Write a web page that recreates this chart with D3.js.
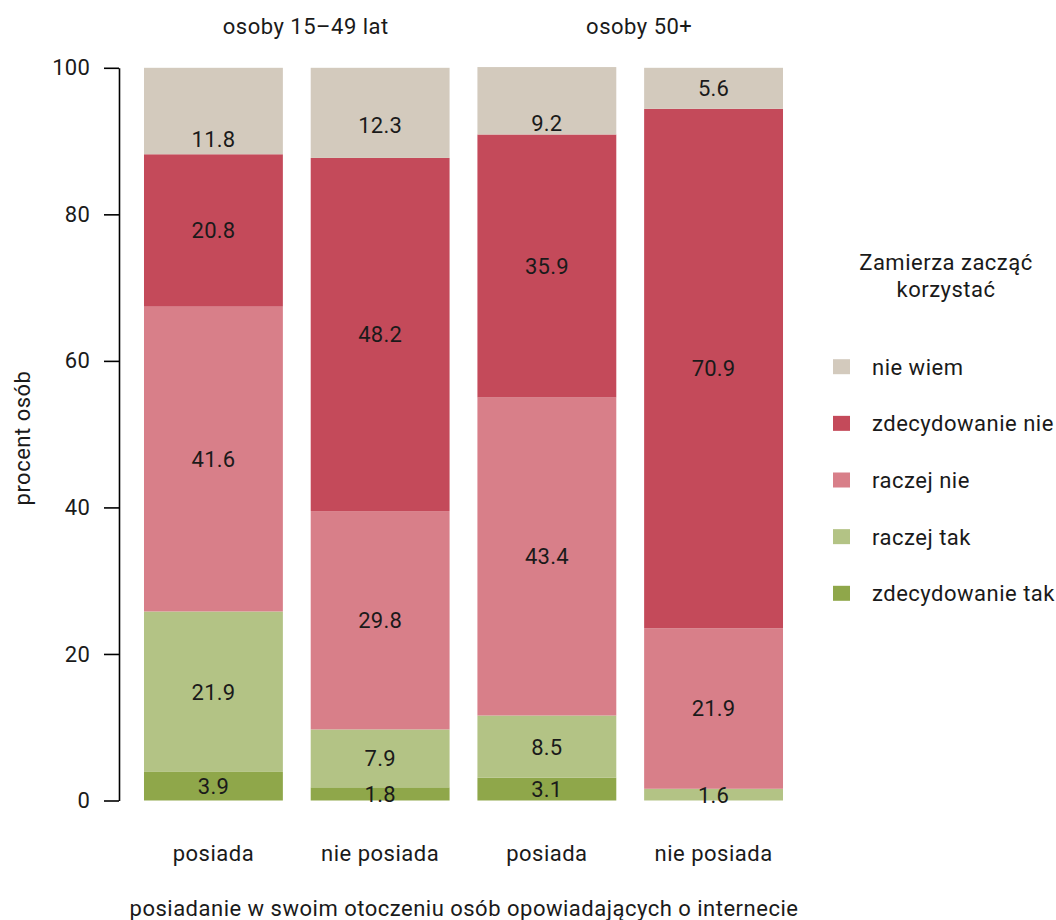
<!DOCTYPE html>
<html><head><meta charset="utf-8">
<script src="https://cdn.jsdelivr.net/npm/d3@7"></script>
<style>
body{margin:0;background:#fff;}
text{font-family:Roboto,"DejaVu Sans",sans-serif;fill:#1a1a1a;}
</style></head>
<body>
<svg id="chart" width="1056" height="920"></svg>
<script>
// ---- data ----
const bars = ["b1","b2","b3","b4"];
const barLabels = ["posiada","nie posiada","posiada","nie posiada"];
const groups = ["osoby 15–49 lat","osoby 50+"];
const series = ["zdecydowanie tak","raczej tak","raczej nie","zdecydowanie nie","nie wiem"];
const colors = ["#8fa74a","#b3c385","#d87f89","#c44a5a","#d3cabd"];
const zdecydowanieTak = [3.9, 1.8, 3.1, 0];
const raczejTak       = [21.9, 7.9, 8.5, 1.6];
const raczejNie       = [41.6, 29.8, 43.4, 21.9];
const zdecydowanieNie = [20.8, 48.2, 35.9, 70.9];
const nieWiem         = [11.8, 12.3, 9.2, 5.6];
// where the reference puts the "nie wiem" value labels (in percent units)
const nieWiemLabelAt  = [90.3, 92.2, 92.4, 97.2];
const yTicks = [0,20,40,60,80,100];

const values = [zdecydowanieTak, raczejTak, raczejNie, zdecydowanieNie, nieWiem];
const table = bars.map((b,i)=>{const o={bar:b}; series.forEach((s,j)=>o[s]=values[j][i]); return o;});
const stacked = d3.stack().keys(series)(table);

const svg = d3.select("#chart");
const x = d3.scaleBand().domain(bars).range([144-0.0835*166.8, 783+0.0835*166.8]).paddingInner(0.167).paddingOuter(0.0835);
const y = d3.scaleLinear().domain([0,100]).range([800.5, 67.8]);
const color = d3.scaleOrdinal().domain(series).range(colors);
const FS = 22;
const LS = "0.5px";
const NLS = "0.2px";

// y axis
const yAxis = svg.append("g").attr("transform","translate(119,0)")
  .call(d3.axisLeft(y).tickValues(yTicks).tickSize(15).tickPadding(14).tickSizeOuter(0));
yAxis.select(".domain").attr("stroke","#000").attr("stroke-width",1.6);
yAxis.selectAll(".tick line").attr("stroke","#000").attr("stroke-width",1.6);
yAxis.selectAll(".tick text").style("font-size",FS+"px").style("font-family","Roboto").attr("fill","#1a1a1a").style("letter-spacing",NLS);

// bars
const layer = svg.append("g").selectAll("g").data(stacked).join("g").attr("fill",d=>color(d.key));
layer.selectAll("rect").data(d=>d).join("rect")
  .attr("x",d=>x(d.data.bar)).attr("width",x.bandwidth())
  .attr("y",d=>y(d[1])).attr("height",d=>Math.max(0,y(d[0])-y(d[1])));

// value labels
stacked.forEach((s,j)=>{
  s.forEach((d,i)=>{
    const v = values[j][i];
    if(!v) return;
    const pos = series[j]==="nie wiem" ? nieWiemLabelAt[i] : (d[0]+d[1])/2;
    svg.append("text").attr("x",x(d.data.bar)+x.bandwidth()/2).attr("y",y(pos))
      .attr("text-anchor","middle").attr("dy","0.36em")
      .style("font-size",FS+"px").style("letter-spacing",NLS).text(v.toFixed(1));
  });
});

// group headers
[[0,1],[2,3]].forEach((g,k)=>{
  const cx = (x(bars[g[0]]) + x(bars[g[1]]) + x.bandwidth())/2 + 9;
  svg.append("text").attr("x",cx).attr("y",26).attr("dy","0.36em").attr("text-anchor","middle")
    .style("font-size",FS+"px").style("letter-spacing",LS).text(groups[k]);
});

// x category labels
bars.forEach((b,i)=>{
  svg.append("text").attr("x",x(b)+x.bandwidth()/2).attr("y",853).attr("dy","0.36em").attr("text-anchor","middle")
    .style("font-size",FS+"px").style("letter-spacing",LS).text(barLabels[i]);
});

// axis titles
svg.append("text").attr("x",464).attr("y",908).attr("dy","0.36em").attr("text-anchor","middle")
  .style("font-size",FS+"px").style("letter-spacing",LS).text("posiadanie w swoim otoczeniu osób opowiadających o internecie");
svg.append("text").attr("transform","translate(22,438) rotate(-90)").attr("dy","0.36em").attr("text-anchor","middle")
  .style("font-size",FS+"px").style("letter-spacing",LS).text("procent osób");

// legend
const lg = svg.append("g");
lg.append("text").attr("x",946).attr("y",262).attr("dy","0.36em").attr("text-anchor","middle")
  .style("font-size",FS+"px").style("letter-spacing",LS).text("Zamierza zacząć");
lg.append("text").attr("x",946).attr("y",289).attr("dy","0.36em").attr("text-anchor","middle")
  .style("font-size",FS+"px").style("letter-spacing",LS).text("korzystać");
const legendOrder = series.slice().reverse();
legendOrder.forEach((s,i)=>{
  const cy = 366.7 + i*56.65;
  lg.append("rect").attr("x",833).attr("y",cy-7.5).attr("width",17).attr("height",15).attr("fill",color(s));
  lg.append("text").attr("x",872).attr("y",cy).attr("dy","0.36em")
    .style("font-size",FS+"px").style("letter-spacing",LS).text(s);
});
</script>
</body></html>
